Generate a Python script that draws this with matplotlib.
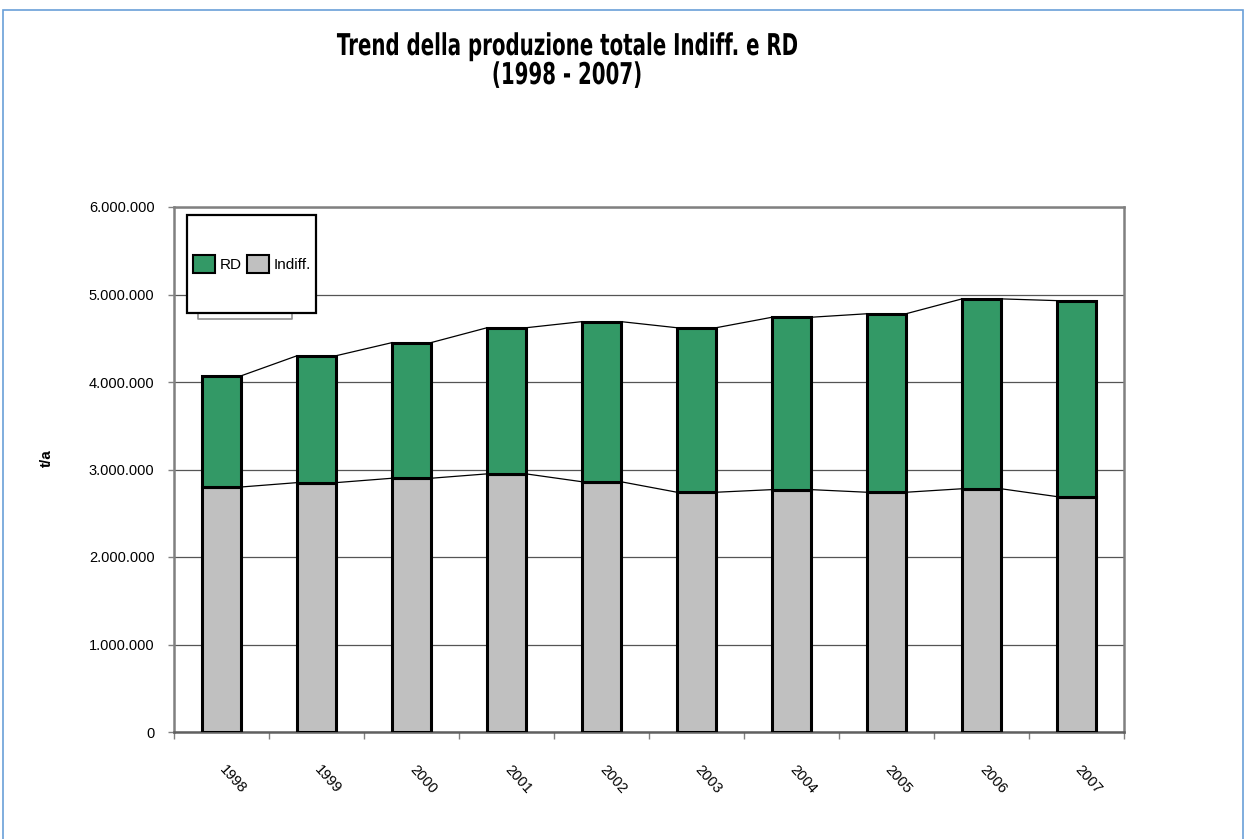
"""
Trend della produzione totale di rifiuti: indifferenziato e raccolta differenziata.
"""

import matplotlib.pyplot as plt
import numpy as np
from matplotlib.patches import Patch, PathPatch, Rectangle
from matplotlib.lines import Line2D
from matplotlib.textpath import TextPath
from matplotlib.font_manager import FontProperties
from matplotlib.ticker import FuncFormatter, MultipleLocator
from matplotlib.transforms import Affine2D, ScaledTranslation

anni = ['1998', '1999', '2000', '2001', '2002', '2003', '2004', '2005', '2006', '2007']
indiff = [2800000, 2850000, 2900000, 2950000, 2860000, 2740000, 2770000, 2740000, 2780000, 2690000]
rd = [1270000, 1450000, 1550000, 1670000, 1830000, 1880000, 1970000, 2040000, 2170000, 2240000]

VERDE = '#339966'
GRIGIO = '#c0c0c0'
BORDO_ASSI = '#808080'
W, H = 1246, 839

plt.rcParams['font.family'] = ['Liberation Sans', 'DejaVu Sans']

fig = plt.figure(figsize=(W / 100, H / 100), dpi=100)
ax = fig.add_axes([174 / W, 1 - 732 / H, 950 / W, 525 / H])

x = np.arange(len(anni))
larghezza = 0.41
totale = np.array(indiff) + np.array(rd)

ax.bar(x, indiff, width=larghezza, color=GRIGIO, edgecolor='black', linewidth=2.2, zorder=3)
ax.bar(x, rd, width=larghezza, bottom=indiff, color=VERDE, edgecolor='black', linewidth=2.2, zorder=3)

# linee di serie tra le barre (dal bordo destro al bordo sinistro della successiva)
for serie in (np.array(indiff), totale):
    for i in range(len(x) - 1):
        ax.plot([x[i] + larghezza / 2, x[i + 1] - larghezza / 2], [serie[i], serie[i + 1]],
                color='black', linewidth=0.9, zorder=2)

ax.set_xlim(-0.5, len(anni) - 0.5)
ax.set_ylim(0, 6000000)
ax.yaxis.set_major_locator(MultipleLocator(1000000))
ax.yaxis.set_major_formatter(FuncFormatter(lambda v, p: f"{v:,.0f}".replace(',', '.')))
ax.grid(axis='y', color='#555555', linewidth=0.9, zorder=1)

for lato in ('left', 'top', 'right'):
    ax.spines[lato].set_color(BORDO_ASSI)
    ax.spines[lato].set_linewidth(1.8)
ax.spines['bottom'].set_color('#606060')
ax.spines['bottom'].set_linewidth(1.8)

ax.tick_params(axis='y', length=4, width=1, color=BORDO_ASSI, labelsize=10.5, pad=10)
ax.set_xticks(x)
ax.set_xticks(np.arange(-0.5, len(anni), 1.0), minor=True)
ax.tick_params(axis='x', which='major', length=0, labelsize=10.5, pad=22)
ax.tick_params(axis='x', which='minor', length=5, width=1, color=BORDO_ASSI)
ax.set_xticklabels(anni, rotation=-48, ha='left', va='top', rotation_mode='anchor')
for lab in ax.get_xticklabels():
    lab.set_transform(lab.get_transform() + ScaledTranslation(6 / 100, 0, fig.dpi_scale_trans))

fig.text(47 / W, 1 - 458 / H, 't/a', rotation=90, fontsize=11, fontweight='bold',
         ha='center', va='center')


def titolo(testo, xc, baseline, size_px, sx):
    """Testo in grassetto compresso orizzontalmente, centrato in xc (pixel)."""
    prop = FontProperties(family='DejaVu Sans', weight='bold')
    path = TextPath((0, 0), testo, size=size_px, prop=prop)
    ext = path.get_extents()
    larg = (ext.x1 - ext.x0) * sx
    tr = (Affine2D().translate(-ext.x0, 0).scale(sx, 1)
          .translate(xc - larg / 2, H - baseline).scale(1 / 100) + fig.dpi_scale_trans)
    fig.patches.append(PathPatch(path, transform=tr, facecolor='black', edgecolor='none', zorder=4))


titolo('Trend della produzione totale Indiff. e RD', 567, 55, 30, 0.66)
titolo('(1998 - 2007)', 567, 84, 30, 0.66)

# riquadro della legenda
fig.patches.append(Rectangle((187 / W, 1 - 313 / H), 129 / W, 98 / H,
                             transform=fig.transFigure, facecolor='white', edgecolor='black',
                             linewidth=1.6, zorder=5))
fig.lines.append(Line2D([198 / W, 198 / W, 292 / W, 292 / W],
                        [1 - 314 / H, 1 - 319 / H, 1 - 319 / H, 1 - 314 / H],
                        transform=fig.transFigure, color='#909090', linewidth=1.2, zorder=5))
maniglie = [Patch(facecolor=VERDE, edgecolor='black', linewidth=1.5, label='RD'),
            Patch(facecolor=GRIGIO, edgecolor='black', linewidth=1.5, label='Indiff.')]
leg = fig.legend(handles=maniglie, loc='center', bbox_to_anchor=(252 / W, 1 - 264 / H),
                 ncol=2, frameon=False, fontsize=11, handlelength=1.45, handleheight=1.45,
                 handletextpad=0.3, columnspacing=0.35, borderpad=0)
leg.set_zorder(6)

# cornice esterna
fig.patches.append(Rectangle((3 / W, -0.05), 1240 / W, 1.05 - 10 / H,
                             transform=fig.transFigure, facecolor='none', edgecolor='#6a9fd8',
                             linewidth=1.2, zorder=0))

fig.savefig('out.png', dpi=100)
